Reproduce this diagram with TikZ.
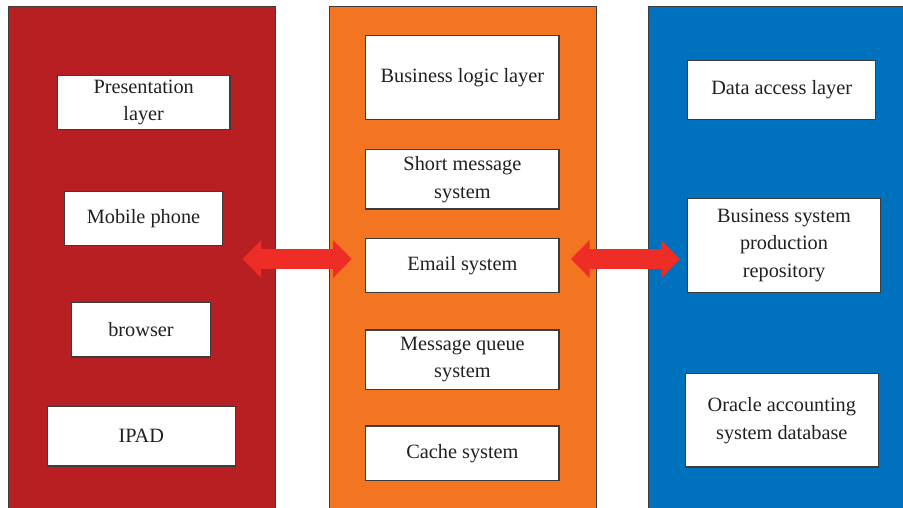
\documentclass[tikz,border=0pt]{standalone}
\usepackage{fontspec}
\setmainfont{Liberation Serif}
\usetikzlibrary{arrows.meta}
\definecolor{panelred}{HTML}{B81F23}
\definecolor{panelorange}{HTML}{F37421}
\definecolor{panelblue}{HTML}{0071BC}
\definecolor{arrowred}{HTML}{EE2E26}
\definecolor{edgegray}{HTML}{3C3C3C}
\definecolor{textgray}{HTML}{231F20}
\tikzset{
  panel/.style={draw=edgegray, line width=1pt, inner sep=0pt, anchor=north west},
  itembox/.style={draw=edgegray, fill=white, line width=1.4pt, inner sep=0pt,
    align=center, text=textgray, font=\fontsize{20.3}{27.5}\selectfont},
  bigarrow/.style={draw=arrowred, line width=19.3pt,
    {Triangle[length=18.5pt,width=36.6pt]}-{Triangle[length=18.5pt,width=36.6pt]}}
}
\begin{document}
\begin{tikzpicture}[x=1pt,y=-1pt]
\useasboundingbox (0,0) rectangle (903,508);
\begin{scope}
\clip (0,0) rectangle (903,508);
% panels
\node[panel, fill=panelred, minimum width=267.5pt, minimum height=506pt] (redp) at (7.5,5.7) {};
\node[panel, fill=panelorange, minimum width=267.3pt, minimum height=506pt] (orangep) at (328.7,5.7) {};
\node[panel, fill=panelblue, minimum width=258pt, minimum height=506pt] (bluep) at (648,5.7) {};
\end{scope}
% left column
\node[itembox, minimum width=172.7pt, minimum height=54pt] (pres) at (143.7,102.4) {Presentation\\layer};
\node[itembox, minimum width=158.4pt, minimum height=54pt] (mobile) at (143.5,218.7) {Mobile phone};
\node[itembox, minimum width=138.6pt, minimum height=54.3pt] (browser) at (141,329.9) {browser};
\node[itembox, minimum width=188pt, minimum height=59.7pt] (ipad) at (141.3,436.2) {IPAD};
% middle column
\node[itembox, minimum width=193.3pt, minimum height=83.6pt] (logic) at (462.4,77.5) {Business logic layer};
\node[itembox, minimum width=193.3pt, minimum height=59.3pt] (sms) at (462.4,179.4) {Short message\\system};
\node[itembox, minimum width=193.3pt, minimum height=54.4pt] (email) at (462.4,265.5) {Email system};
\node[itembox, minimum width=193.3pt, minimum height=59.3pt] (mq) at (462.4,359.7) {Message queue\\system};
\node[itembox, minimum width=193.3pt, minimum height=54.3pt] (cache) at (462.4,453.2) {Cache system};
% right column
\node[itembox, minimum width=188pt, minimum height=59pt] (dal) at (781.7,89.8) {Data access layer};
\node[itembox, minimum width=193.4pt, minimum height=94pt] (repo) at (784,245.3) {Business system\\production\\repository};
\node[itembox, minimum width=193pt, minimum height=93.3pt] (oracle) at (781.8,420.4) {Oracle accounting\\system database};
% arrows
\coordinate (la) at (242.7,259);
\coordinate (lb) at (351.7,259);
\coordinate (ra) at (571,259);
\coordinate (rb) at (680,259);
\draw[bigarrow] (la) -- (lb);
\draw[bigarrow] (ra) -- (rb);
\end{tikzpicture}
\end{document}
